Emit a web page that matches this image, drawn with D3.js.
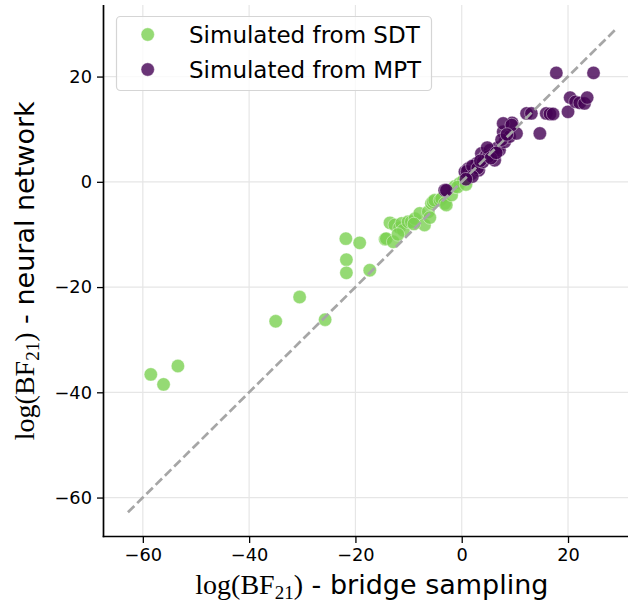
<!DOCTYPE html>
<html>
<head>
<meta charset="utf-8">
<script src="https://cdn.jsdelivr.net/npm/d3@7"></script>
<style>
  html, body { margin: 0; padding: 0; background: #fff; }
  svg { display: block; }
</style>
</head>
<body>
<svg id="chart" width="628" height="607"></svg>
<script>
// ---- data ----
const seriesNames = ["Simulated from SDT", "Simulated from MPT"];
const sdtX = [-58.5,-56.1,-53.4,-35.0,-30.5,-25.7,-21.8,-21.7,-21.7,-19.2,-17.3,-14.4,-14.2,-13.5,-12.9,-12.6,-11.7,-11.3,-11.0,-10.1,-9.5,-8.8,-7.9,-7.0,-6.3,-6.0,-5.7,-5.4,-5.1,-4.1,-3.8,-3.2,-2.9,-1.9,-1.3,-0.4,0.3,1.0,-0.8,0.8,-12.0,-9.0];
const sdtY = [-36.6,-38.5,-35.0,-26.5,-21.9,-26.2,-10.8,-14.8,-17.3,-11.6,-16.8,-10.9,-10.8,-7.8,-11.4,-8.2,-8.7,-7.9,-9.2,-7.6,-7.6,-7.0,-6.0,-8.2,-5.7,-6.8,-4.1,-3.8,-3.5,-3.5,-3.2,-4.1,-4.4,-2.5,-0.9,-0.3,0.2,0.5,-1.0,-0.5,-10.0,-8.0];
const mptX = [-3.2,-2.9,0.6,1.2,1.8,2.4,2.8,3.2,3.7,4.2,4.6,5.3,5.8,6.2,6.8,7.1,7.8,8.1,9.0,9.5,7.8,10.3,9.4,12.2,13.1,14.7,15.9,16.6,17.2,17.8,20.0,20.4,21.4,22.2,23.1,23.6,24.8,1.0,2.0,3.0,4.0,5.0,3.5,4.8,5.5,6.5,7.5,8.5,2.0,0.8];
const mptY = [-1.6,-1.6,1.9,2.5,1.5,3.0,3.5,2.2,5.4,4.5,5.0,6.0,5.2,4.1,6.5,6.0,9.5,7.6,8.6,11.2,11.1,9.2,10.8,13.0,13.0,9.2,13.0,12.9,12.9,20.7,13.3,16.0,15.2,15.0,14.9,16.0,20.7,2.0,3.0,2.6,3.8,4.8,4.0,6.5,4.5,5.5,8.0,9.0,1.0,0.5];
const xTicks = [-60,-40,-20,0,20];
const yTicks = [-60,-40,-20,0,20];
const identityRange = [-62.8, 29.0];
const axisLimits = [-67.4, 33.6];
const colors = ["#7ad151", "#440154"];

// ---- layout ----
const svg = d3.select("#chart");
const x = d3.scaleLinear().domain(axisLimits).range([103.5, 640.3]);
const y = d3.scaleLinear().domain(axisLimits).range([536.5, 5]);
const tickFont = "'DejaVu Sans', sans-serif";

// grid
const grid = svg.append("g");
grid.selectAll("line.gx").data(xTicks).join("line")
  .attr("x1", d => x(d)).attr("x2", d => x(d))
  .attr("y1", y.range()[0]).attr("y2", y.range()[1])
  .attr("stroke", "#e6e6e6").attr("stroke-width", 1.2);
grid.selectAll("line.gy").data(yTicks).join("line")
  .attr("y1", d => y(d)).attr("y2", d => y(d))
  .attr("x1", x.range()[0]).attr("x2", x.range()[1])
  .attr("stroke", "#e6e6e6").attr("stroke-width", 1.2);

// points
const series = [
  sdtX.map((v, i) => ({x: v, y: sdtY[i]})),
  mptX.map((v, i) => ({x: v, y: mptY[i]}))
];
series.forEach((pts, si) => {
  svg.append("g").selectAll("circle").data(pts).join("circle")
    .attr("cx", d => x(d.x)).attr("cy", d => y(d.y)).attr("r", 6.7)
    .attr("fill", colors[si]).attr("fill-opacity", 0.8)
    .attr("stroke", "#fff").attr("stroke-opacity", 0.45).attr("stroke-width", 0.9);
});

// identity line
svg.append("line")
  .attr("x1", x(identityRange[0])).attr("y1", y(identityRange[0]))
  .attr("x2", x(identityRange[1])).attr("y2", y(identityRange[1]))
  .attr("stroke", "#a6a6a6").attr("stroke-width", 2.7)
  .attr("stroke-dasharray", "9,4");

// axes
const xAxis = svg.append("g").attr("transform", `translate(0,${y.range()[0]})`)
  .call(d3.axisBottom(x).tickValues(xTicks).tickSize(6.5).tickPadding(5)
    .tickFormat(d => d3.format("")(d).replace("-", "\u2212")));
const yAxis = svg.append("g").attr("transform", `translate(${x.range()[0]},0)`)
  .call(d3.axisLeft(y).tickValues(yTicks).tickSize(6.5).tickPadding(5)
    .tickFormat(d => d3.format("")(d).replace("-", "\u2212")));
[xAxis, yAxis].forEach(a => {
  a.select(".domain").remove();
  a.selectAll(".tick line").attr("stroke", "#000").attr("stroke-width", 1.3);
  a.selectAll(".tick text").attr("font-family", tickFont).attr("font-size", 17.8).attr("fill", "#000");
});
// spines
svg.append("line").attr("x1", x.range()[0]).attr("x2", x.range()[0])
  .attr("y1", y.range()[0] + 0.8).attr("y2", y.range()[1]).attr("stroke", "#000").attr("stroke-width", 1.7);
svg.append("line").attr("x1", x.range()[0] - 0.8).attr("x2", x.range()[1])
  .attr("y1", y.range()[0]).attr("y2", y.range()[0]).attr("stroke", "#000").attr("stroke-width", 1.7);

// axis labels
function axisLabel(g, suffix) {
  const t = g.append("text").attr("text-anchor", "middle").attr("fill", "#000");
  t.append("tspan").attr("font-family", "'Liberation Serif', serif").attr("font-size", 28).text("log(BF");
  t.append("tspan").attr("font-family", "'Liberation Serif', serif").attr("font-size", 19).attr("dy", 5).text("21");
  t.append("tspan").attr("font-family", "'Liberation Serif', serif").attr("font-size", 28).attr("dy", -5).text(")");
  t.append("tspan").attr("font-family", tickFont).attr("font-size", 27).text(" - " + suffix);
  return t;
}
axisLabel(svg.append("g").attr("transform", `translate(${(x.range()[0] + x.range()[1]) / 2},594)`), "bridge sampling");
axisLabel(svg.append("g").attr("transform", `translate(34,${(y.range()[0] + y.range()[1]) / 2}) rotate(-90)`), "neural network");

// legend
const leg = svg.append("g");
leg.append("rect").attr("x", 116.5).attr("y", 16.5).attr("width", 315).attr("height", 74)
  .attr("rx", 4).attr("fill", "#fff").attr("fill-opacity", 0.8)
  .attr("stroke", "#d5d5d5").attr("stroke-width", 1.2);
seriesNames.forEach((name, i) => {
  const cy = 34.5 + i * 35;
  leg.append("circle").attr("cx", 147.7).attr("cy", cy).attr("r", 6.7)
    .attr("fill", colors[i]).attr("fill-opacity", 0.8)
    .attr("stroke", "#fff").attr("stroke-opacity", 0.45).attr("stroke-width", 0.9);
  leg.append("text").attr("x", 189).attr("y", cy + 8)
    .attr("font-family", tickFont).attr("font-size", 23).attr("fill", "#000").text(name);
});
</script>
</body>
</html>
